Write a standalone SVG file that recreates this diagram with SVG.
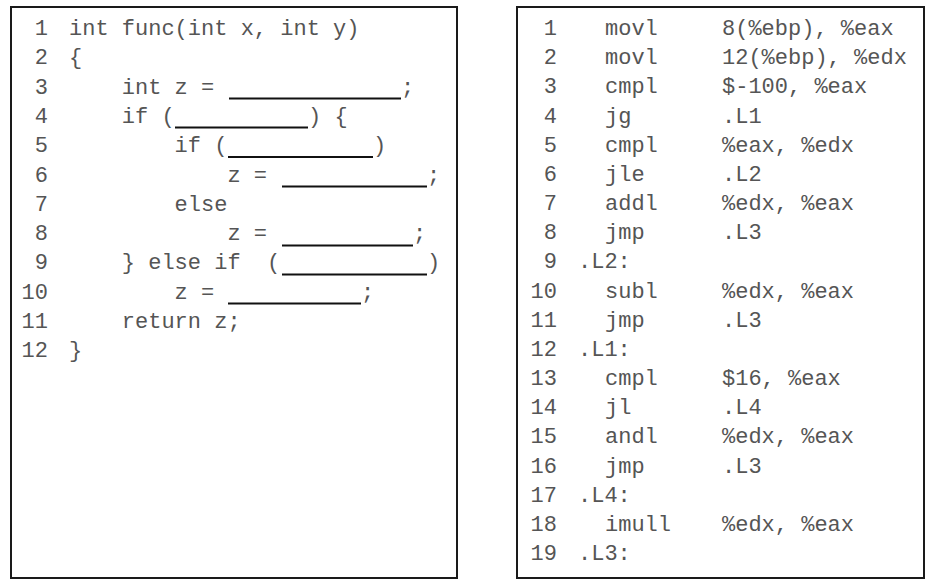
<svg xmlns="http://www.w3.org/2000/svg" width="934" height="588" viewBox="0 0 934 588">
<style>
.box{fill:#fff;stroke:#1a1a1a;stroke-width:2}
text{font-family:"Liberation Mono","Courier New",monospace;font-size:22px;fill:#555}
.num{text-anchor:end}
.blank{stroke:#111;stroke-width:2}
</style>
<rect x="0" y="0" width="934" height="588" fill="#fff"/>
<g id="c-code">
<rect class="box" x="11" y="7" width="446" height="571"/>
<g id="c-nums">
<text class="num" x="48" y="35">1</text>
<text class="num" x="48" y="64.3">2</text>
<text class="num" x="48" y="93.6">3</text>
<text class="num" x="48" y="122.9">4</text>
<text class="num" x="48" y="152.2">5</text>
<text class="num" x="48" y="181.5">6</text>
<text class="num" x="48" y="210.8">7</text>
<text class="num" x="48" y="240.1">8</text>
<text class="num" x="48" y="269.4">9</text>
<text class="num" x="48" y="298.7">10</text>
<text class="num" x="48" y="328">11</text>
<text class="num" x="48" y="357.3">12</text>
</g>
<g id="c-lines">
<text x="69" y="35">int func(int x, int y)</text>
<text x="69" y="64.3">{</text>
<text x="121.8" y="93.6">int z =</text><text x="401" y="93.6">;</text>
<text x="121.8" y="122.9">if (</text><text x="308" y="122.9">) {</text>
<text x="174.6" y="152.2">if (</text><text x="373" y="152.2">)</text>
<text x="227.4" y="181.5">z =</text><text x="427" y="181.5">;</text>
<text x="174.6" y="210.8">else</text>
<text x="227.4" y="240.1">z =</text><text x="413" y="240.1">;</text>
<text x="121.8" y="269.4">} else if</text><text x="267" y="269.4">(</text><text x="427" y="269.4">)</text>
<text x="174.6" y="298.7">z =</text><text x="361" y="298.7">;</text>
<text x="121.8" y="328">return z;</text>
<text x="69" y="357.3">}</text>
</g>
<g id="c-blanks">
<line class="blank" x1="229" y1="98.5" x2="401" y2="98.5"/>
<line class="blank" x1="175" y1="127.5" x2="308" y2="127.5"/>
<line class="blank" x1="228" y1="157" x2="373" y2="157"/>
<line class="blank" x1="282" y1="186.5" x2="427" y2="186.5"/>
<line class="blank" x1="282" y1="245.5" x2="413" y2="245.5"/>
<line class="blank" x1="282" y1="274.5" x2="427" y2="274.5"/>
<line class="blank" x1="228" y1="303.5" x2="361" y2="303.5"/>
</g>
</g>
<g id="asm">
<rect class="box" x="517" y="7" width="407" height="571"/>
<g id="asm-nums">
<text class="num" x="557" y="35">1</text>
<text class="num" x="557" y="64.2">2</text>
<text class="num" x="557" y="93.3">3</text>
<text class="num" x="557" y="122.5">4</text>
<text class="num" x="557" y="151.7">5</text>
<text class="num" x="557" y="180.9">6</text>
<text class="num" x="557" y="210">7</text>
<text class="num" x="557" y="239.2">8</text>
<text class="num" x="557" y="268.4">9</text>
<text class="num" x="557" y="297.5">10</text>
<text class="num" x="557" y="326.7">11</text>
<text class="num" x="557" y="355.9">12</text>
<text class="num" x="557" y="385">13</text>
<text class="num" x="557" y="414.2">14</text>
<text class="num" x="557" y="443.4">15</text>
<text class="num" x="557" y="472.6">16</text>
<text class="num" x="557" y="501.7">17</text>
<text class="num" x="557" y="530.9">18</text>
<text class="num" x="557" y="560">19</text>
</g>
<g id="asm-lines">
<text x="605" y="35">movl</text><text x="722" y="35">8(%ebp), %eax</text>
<text x="605" y="64.2">movl</text><text x="722" y="64.2">12(%ebp), %edx</text>
<text x="605" y="93.3">cmpl</text><text x="722" y="93.3">$-100, %eax</text>
<text x="605" y="122.5">jg</text><text x="722" y="122.5">.L1</text>
<text x="605" y="151.7">cmpl</text><text x="722" y="151.7">%eax, %edx</text>
<text x="605" y="180.9">jle</text><text x="722" y="180.9">.L2</text>
<text x="605" y="210">addl</text><text x="722" y="210">%edx, %eax</text>
<text x="605" y="239.2">jmp</text><text x="722" y="239.2">.L3</text>
<text x="578" y="268.4">.L2:</text>
<text x="605" y="297.5">subl</text><text x="722" y="297.5">%edx, %eax</text>
<text x="605" y="326.7">jmp</text><text x="722" y="326.7">.L3</text>
<text x="578" y="355.9">.L1:</text>
<text x="605" y="385">cmpl</text><text x="722" y="385">$16, %eax</text>
<text x="605" y="414.2">jl</text><text x="722" y="414.2">.L4</text>
<text x="605" y="443.4">andl</text><text x="722" y="443.4">%edx, %eax</text>
<text x="605" y="472.6">jmp</text><text x="722" y="472.6">.L3</text>
<text x="578" y="501.7">.L4:</text>
<text x="605" y="530.9">imull</text><text x="722" y="530.9">%edx, %eax</text>
<text x="578" y="560">.L3:</text>
</g>
</g>
</svg>
